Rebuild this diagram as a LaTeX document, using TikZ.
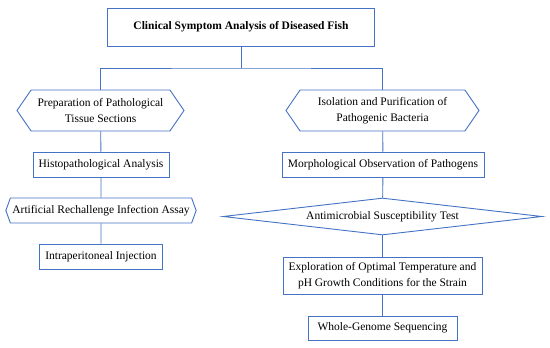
\documentclass[tikz,border=0pt]{standalone}
\usepackage{fontspec}
\setmainfont{Liberation Serif}
\usetikzlibrary{positioning,shapes.geometric,shapes.symbols}
\definecolor{flowblue}{HTML}{4472C4}
\tikzset{
  stepbox/.style={draw=flowblue, line width=0.9pt, fill=white, inner sep=2pt,
    minimum height=25pt, font=\fontsize{11.5}{15.5}\selectfont, align=center},
  hexbox/.style={stepbox, shape=signal, signal to=west and east},
  testbox/.style={stepbox, shape=diamond, inner sep=0pt, aspect=8.6},
  link/.style={draw=flowblue, line width=0.9pt},
}
\begin{document}
\begin{tikzpicture}[x=1pt,y=1pt]
  \useasboundingbox (0,0) rectangle (550,-348);
  \node[stepbox, minimum width=267pt, minimum height=38pt, font=\fontsize{11.5}{15.5}\selectfont\bfseries] (top) at (241,-27)
      {Clinical Symptom Analysis of Diseased Fish};
  \coordinate (split) at (241,-68);
  % left branch
  \node[hexbox, minimum width=167pt, minimum height=41pt, signal pointer angle=111] (prep) at (100.5,-110.5)
      {Preparation of Pathological\\ Tissue Sections};
  \node[stepbox, minimum width=136pt] (histo) at (101,-164.5) {Histopathological Analysis};
  \node[hexbox, minimum width=188pt, signal pointer angle=140] (assay) at (101,-210.5)
      {Artificial Rechallenge Infection Assay};
  \node[stepbox, minimum width=123pt] (inject) at (101,-256.5) {Intraperitoneal Injection};
  % right branch
  \node[hexbox, minimum width=193pt, minimum height=41pt, signal pointer angle=111] (iso) at (382.5,-110.5)
      {Isolation and Purification of\\ Pathogenic Bacteria};
  \node[stepbox, minimum width=202pt] (morph) at (383,-164.5) {Morphological Observation of Pathogens};
  \node[testbox, minimum width=319pt, minimum height=37pt] (anti) at (382.5,-216.5)
      {Antimicrobial Susceptibility Test};
  \node[stepbox, minimum width=199pt, minimum height=37pt] (explore) at (382.5,-275.5)
      {Exploration of Optimal Temperature and\\ pH Growth Conditions for the Strain};
  \node[stepbox, minimum width=149pt, minimum height=24pt] (genome) at (382.5,-328) {Whole-Genome Sequencing};
  % connectors
  \draw[link] (top) -- (split);
  \draw[link] (prep.north) |- (split) -| (iso.north);
  \draw[link] (prep) -- (histo);
  \draw[link] (histo) -- (assay);
  \draw[link] (assay) -- (inject);
  \draw[link] (iso) -- (morph);
  \draw[link] (morph) -- (anti);
  \draw[link] (anti) -- (explore);
  \draw[link] (explore) -- (genome);
\end{tikzpicture}
\end{document}
